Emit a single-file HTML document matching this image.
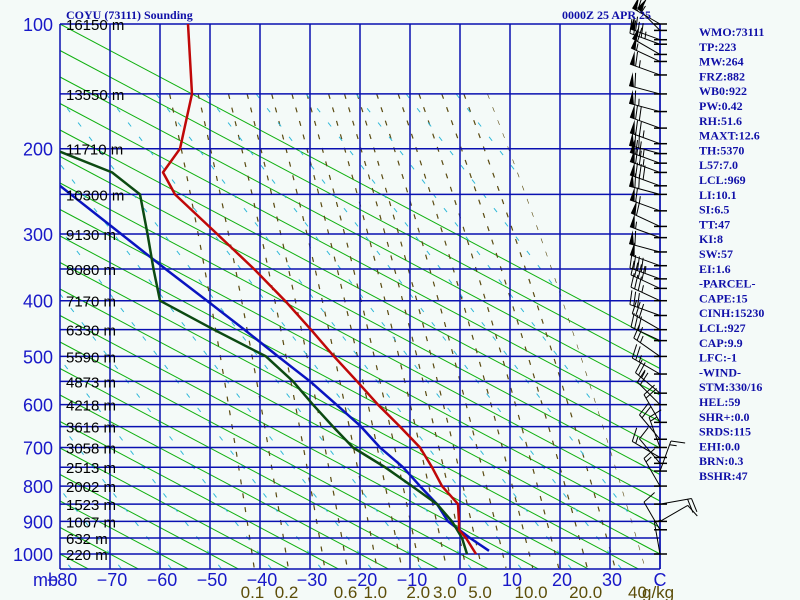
<!DOCTYPE html>
<html><head><meta charset="utf-8"><style>
html,body{margin:0;padding:0;background:#f4faf8;}
svg{display:block;}
.ax{font-family:"Liberation Sans",sans-serif;}
.hdr{font-family:"Liberation Serif",serif;font-weight:bold;font-size:12px;fill:#1010a8;}
</style></head><body>
<svg id="chart" width="800" height="600" viewBox="0 0 800 600">
<rect x="0" y="0" width="800" height="600" fill="#f4faf8"/>
<defs>
<clipPath id="plotClip"><rect x="60" y="24" width="600" height="545"/></clipPath>
<clipPath id="mixClip"><polygon id="mixPoly" points="0,0"/></clipPath>
</defs>
<g id="gGreen" clip-path="url(#plotClip)"></g>
<g id="gMix" clip-path="url(#mixClip)"></g>
<g id="gGrid"></g>
<g id="gSeries" clip-path="url(#plotClip)"></g>
<g id="gBarbs"></g>
<g id="gLabels"></g>
<text class="hdr" x="66" y="19">COYU (73111) Sounding</text>
<text class="hdr" x="562" y="19">0000Z 25 APR 25</text>
<g id="gIdx"></g>
</svg>
<script>
// ---- data ----
const pLevels = [100,150,200,250,300,350,400,450,500,550,600,650,700,750,800,850,900,950,1000];
const heightLabels = ["16150 m","13550 m","11710 m","10300 m","9130 m","8080 m","7170 m","6330 m","5590 m","4873 m","4218 m","3616 m","3058 m","2513 m","2002 m","1523 m","1067 m","632 m","220 m"];
const tempTicks = [-80,-70,-60,-50,-40,-30,-20,-10,0,10,20,30];
const mixLabels = [0.1,0.2,0.6,1.0,2.0,3.0,5.0,10.0,20.0];
const mixLines = [0.1,0.2,0.4,0.6,1,1.5,2,3,4,5,7,10,14,20,28,40];
const tempP = [100,150,200,225,250,300,350,400,450,500,550,600,650,700,750,800,850,900,925,950,1000];
const tempT = [-54.4,-53.6,-56,-59.4,-57,-48.6,-41.2,-35,-29.8,-25.2,-20.6,-16.4,-12,-8,-5.6,-3.6,-0.4,-0.2,-0.2,1.2,3.2];
const dewP = [203,225,250,300,350,400,450,500,550,600,650,700,750,800,850,900,950,1000];
const dewT = [-80,-69.6,-64,-62.5,-61.3,-60,-49.2,-38.8,-33.4,-29.4,-25.4,-21.4,-15,-9.6,-4.6,-1.6,0.4,1.4];
const parcelP = [240,300,350,400,450,500,550,600,650,700,750,800,850,900,950,990];
const parcelT = [-80,-67.8,-58.9,-50.6,-43.1,-36.4,-30,-24.7,-19.8,-16,-11.4,-8,-4.6,-2.4,2,5.8];
const barbP = [100,104,110,113,120,125,135,150,165,180,195,205,215,225,240,250,270,290,305,325,345,365,380,400,425,450,470,500,535,575,600,640,680,700,725,740,760,800,850,900,925,1000];
const barbDir = [300,315,290,290,300,295,290,285,285,290,290,285,290,290,290,285,290,295,290,285,290,290,295,295,290,300,295,305,300,310,315,330,320,340,300,320,20,330,80,60,330,350];
const barbSpd = [65,55,60,45,60,55,65,60,65,70,75,70,75,75,80,70,65,60,55,60,50,45,40,35,30,30,30,25,25,25,20,20,20,15,15,10,15,15,20,10,10,5];
const indices = ["WMO:73111","TP:223","MW:264","FRZ:882","WB0:922","PW:0.42","RH:51.6","MAXT:12.6","TH:5370","L57:7.0","LCL:969","LI:10.1","SI:6.5","TT:47","KI:8","SW:57","EI:1.6","-PARCEL-","CAPE:15","CINH:15230","LCL:927","CAP:9.9","LFC:-1","-WIND-","STM:330/16","HEL:59","SHR+:0.0","SRDS:115","EHI:0.0","BRN:0.3","BSHR:47"];

// ---- scales ----
const K = 0.286, P0 = Math.pow(100,K), P1 = Math.pow(1000,K);
function yP(p){ return 24 + (Math.pow(p,K)-P0)/(P1-P0)*530; }
function pY(y){ return Math.pow(P0 + (y-24)/530*(P1-P0), 1/K); }
function xT(t){ return 460 + 5*t; }
function tW(w,p){ const es = w*p/(622+w); const L = Math.log(es/6.112); return 243.5*L/(17.67-L); }

const NS = "http://www.w3.org/2000/svg";
function mk(tag, attrs, parent){ const e=document.createElementNS(NS,tag); for(const k in attrs) e.setAttribute(k,attrs[k]); parent.appendChild(e); return e; }

const gG = document.getElementById('gGreen');
for(let a=60; a<=1060; a+=50){
  const l = mk('line',{x1:a-530/0.53, y1:24, x2:a+15/0.53, y2:569, stroke:'#10b010','stroke-width':1}, gG);
  
  
}
(function(){
  let pts = ["60,94"];
  for(let y=94; y<=569; y+=5){ pts.push(xT(tW(40,pY(y))).toFixed(1)+","+y); }
  pts.push("60,569");
  document.getElementById('mixPoly').setAttribute('points', pts.join(' '));
})();
const gM = document.getElementById('gMix');
mixLines.forEach(w=>{
  let d=""; for(let y=94; y<=569; y+=6){ d += (d?"L":"M")+xT(tW(w,pY(y))).toFixed(1)+","+y; }
  const e = mk('path',{d:d, fill:'none', stroke:'#5a4a10','stroke-width':1.2,'stroke-dasharray':'5 9'}, gM);
  
  
});
for(let a=60; a<=1200; a+=50){
  const e = mk('line',{x1:a-460/1.3, y1:94, x2:a+15/1.3, y2:569, stroke:'#30b8d8','stroke-width':1,'stroke-dasharray':'5 13'}, gM);
  
  
}

const gGr = document.getElementById('gGrid');
const gL = document.getElementById('gLabels');
pLevels.forEach((p,i)=>{
  const y = yP(p);
  const l = mk('line',{x1:60,y1:y,x2:660,y2:y,stroke:'#0a10b0','stroke-width':1.5}, gGr);
  
  
  if(p%100===0){
    const t = mk('text',{x:53,y:y+7,'text-anchor':'end','font-size':18,fill:'#1818c8',class:'ax'}, gL);
    t.textContent = p;
    
    
  }
  const h = mk('text',{x:66,y:y+6,'font-size':15,fill:'#000',class:'ax'}, gL);
  h.textContent = heightLabels[i];
  
  
});
tempTicks.concat([40]).forEach(t=>{
  const x = xT(t);
  const l = mk('line',{x1:x,y1:24,x2:x,y2:569,stroke:'#0a10b0','stroke-width':1.5}, gGr);
  
  
});
{const l = mk('line',{x1:60,y1:569,x2:660,y2:569,stroke:'#0a10b0','stroke-width':1.5}, gGr);
 }
tempTicks.forEach(t=>{
  const e = mk('text',{x:xT(t)+2,y:586,'text-anchor':'middle','font-size':18,fill:'#1818c8',class:'ax'}, gL);
  e.textContent = (t<0?'\u2212':'')+Math.abs(t);
  
  
});
{const e = mk('text',{x:33,y:586,'font-size':18,fill:'#1818c8',class:'ax'}, gL); e.textContent='mb';
 }
{const e = mk('text',{x:660,y:586,'text-anchor':'middle','font-size':18,fill:'#1818c8',class:'ax'}, gL); e.textContent='C';
 }
mixLabels.forEach(w=>{
  const e = mk('text',{x:xT(tW(w,1050))-2,y:598,'text-anchor':'middle','font-size':17,fill:'#5c4d08',class:'ax'}, gL);
  e.textContent = w.toFixed(1);
  
  
});
{const e = mk('text',{x:628,y:598,'font-size':17,fill:'#5c4d08',class:'ax'}, gL); e.textContent='40';
 
const u = mk('text',{x:642,y:598,'font-size':17,fill:'#5c4d08',class:'ax'}, gL); u.textContent='g/kg';
 }

const gS = document.getElementById('gSeries');
function series(P,T,color,name){
  const pts = P.map((p,i)=>xT(T[i]).toFixed(1)+","+yP(p).toFixed(1)).join(' ');
  const e = mk('polyline',{points:pts,fill:'none',stroke:color,'stroke-width':2.5,'stroke-linejoin':'round'}, gS);
  
  
}
series(parcelP,parcelT,'#0a14c0','parcel-trace');
series(dewP,dewT,'#0c4a12','dewpoint-line');
series(tempP,tempT,'#c00808','temperature-line');

const gB = document.getElementById('gBarbs');
{const s = mk('line',{x1:660,y1:24,x2:660,y2:569,stroke:'#0a10b0','stroke-width':1.5}, gB);
 }
barbP.forEach((p,i)=>{
  const y = yP(p), x=660;
  const g = mk('g',{}, gB);
  
  
  mk('line',{x1:654,y1:y,x2:667,y2:y,stroke:'#000','stroke-width':1.5}, g);
  const d = barbDir[i]*Math.PI/180, ux=Math.sin(d), uy=-Math.cos(d);
  const L=32, ex=x+ux*L, ey=y+uy*L, px=-uy, py=ux;
  mk('line',{x1:x,y1:y,x2:ex,y2:ey,stroke:'#000','stroke-width':1}, g);
  let s = barbSpd[i], pos=0;
  while(s>=50){
    const bx=ex-ux*pos, by=ey-uy*pos, cx=ex-ux*(pos+5), cy=ey-uy*(pos+5);
    mk('polygon',{points:`${bx},${by} ${bx+px*14},${by+py*14} ${cx},${cy}`,fill:'#000'}, g);
    s-=50; pos+=6;
  }
  while(s>=10){
    const bx=ex-ux*pos, by=ey-uy*pos;
    mk('line',{x1:bx,y1:by,x2:bx+px*14+ux*3,y2:by+py*14+uy*3,stroke:'#000','stroke-width':1}, g);
    s-=10; pos+=4;
  }
  if(s>=5){
    const bx=ex-ux*pos, by=ey-uy*pos;
    mk('line',{x1:bx,y1:by,x2:bx+px*7+ux*1.5,y2:by+py*7+uy*1.5,stroke:'#000','stroke-width':1}, g);
  }
});

const gI = document.getElementById('gIdx');
indices.forEach((s,i)=>{
  const e = mk('text',{x:699,y:36+i*14.8,class:'hdr'}, gI);
  e.textContent = s;
  
  
});
</script>
</body></html>
